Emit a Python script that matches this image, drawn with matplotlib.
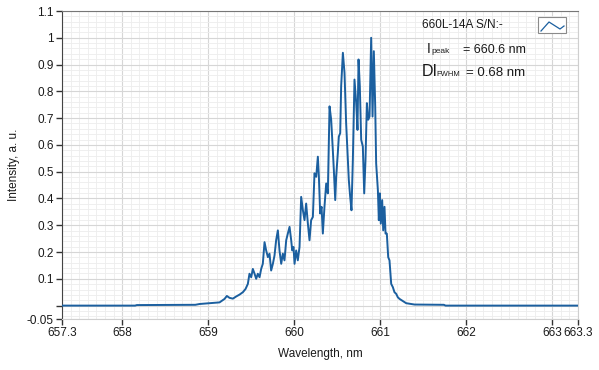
import matplotlib
matplotlib.use('Agg')
import matplotlib.pyplot as plt
from matplotlib.ticker import MultipleLocator
from matplotlib.lines import Line2D
from matplotlib.patches import Rectangle

# spectrum (nm, a.u.)
wavelength = [657.300, 658.150, 658.170, 658.850, 658.900, 659.015, 659.132, 659.190,
              659.217, 659.248, 659.287, 659.325, 659.364, 659.403, 659.434, 659.461,
              659.480, 659.500, 659.519, 659.539, 659.558, 659.577, 659.597, 659.616,
              659.635, 659.655, 659.674, 659.694, 659.713, 659.732, 659.752, 659.771,
              659.790, 659.810, 659.829, 659.849, 659.868, 659.887, 659.907, 659.926,
              659.946, 659.965, 659.977, 659.992, 660.004, 660.023, 660.042, 660.062,
              660.081, 660.101, 660.120, 660.139, 660.159, 660.178, 660.197, 660.217,
              660.236, 660.256, 660.275, 660.287, 660.302, 660.318, 660.333, 660.352,
              660.372, 660.391, 660.411, 660.430, 660.449, 660.461, 660.477, 660.488,
              660.507, 660.519, 660.535, 660.546, 660.566, 660.585, 660.604, 660.624,
              660.635, 660.651, 660.666, 660.682, 660.701, 660.721, 660.736, 660.748,
              660.763, 660.779, 660.798, 660.814, 660.829, 660.845, 660.860, 660.876,
              660.895, 660.911, 660.926, 660.942, 660.953, 660.973, 660.984, 660.996,
              661.007, 661.023, 661.035, 661.050, 661.062, 661.077, 661.093, 661.108,
              661.128, 661.147, 661.166, 661.186, 661.205, 661.225, 661.302, 661.399,
              661.740, 661.760, 663.300]
intensity = [0.000, 0.000, 0.002, 0.003, 0.006, 0.009, 0.012, 0.025,
             0.036, 0.029, 0.026, 0.034, 0.041, 0.050, 0.062, 0.081,
             0.119, 0.106, 0.137, 0.119, 0.100, 0.119, 0.106, 0.137,
             0.156, 0.237, 0.206, 0.181, 0.194, 0.131, 0.156, 0.187,
             0.244, 0.281, 0.206, 0.156, 0.194, 0.169, 0.244, 0.269,
             0.294, 0.244, 0.206, 0.219, 0.156, 0.206, 0.169, 0.219,
             0.406, 0.356, 0.319, 0.381, 0.306, 0.244, 0.319, 0.331,
             0.494, 0.481, 0.556, 0.481, 0.344, 0.369, 0.269, 0.369,
             0.456, 0.419, 0.744, 0.694, 0.581, 0.506, 0.394, 0.481,
             0.569, 0.631, 0.644, 0.819, 0.944, 0.869, 0.681, 0.544,
             0.469, 0.406, 0.356, 0.544, 0.844, 0.756, 0.656, 0.919,
             0.819, 0.619, 0.594, 0.419, 0.544, 0.756, 0.694, 0.706,
             1.000, 0.706, 0.950, 0.744, 0.531, 0.431, 0.319, 0.419,
             0.306, 0.394, 0.281, 0.369, 0.269, 0.269, 0.181, 0.169,
             0.081, 0.069, 0.050, 0.044, 0.031, 0.025, 0.009, 0.004,
             0.003, 0.000, 0.000]

x_ticks = [657.3, 658, 659, 660, 661, 662, 663, 663.3]
x_labels = ['657.3', '658', '659', '660', '661', '662', '663', '663.3']
y_ticks = [-0.05, 0, 0.1, 0.2, 0.3, 0.4, 0.5, 0.6, 0.7, 0.8, 0.9, 1.0, 1.1]
y_labels = ['-0.05', '', '0.1', '0.2', '0.3', '0.4', '0.5', '0.6', '0.7', '0.8', '0.9', '1', '1.1']

plt.rcParams['font.family'] = ['Liberation Sans', 'DejaVu Sans']

W, H = 599, 370
TXT = '#1a1a1a'


def fx(px):
    return px / W


def fy(py):
    return 1 - py / H


def main():
    fig = plt.figure(figsize=(W / 100, H / 100), dpi=100)
    ax = fig.add_axes([fx(62), fy(319), fx(578) - fx(62), fy(11) - fy(319)])

    ax.plot(wavelength, intensity, color='#1b5f9f', lw=1.4, zorder=3)

    ax.set_xlim(657.3, 663.3)
    ax.set_ylim(-0.05, 1.1)

    # grid, LabVIEW style
    ax.xaxis.set_minor_locator(MultipleLocator(0.1))
    ax.yaxis.set_minor_locator(MultipleLocator(0.02))
    ax.grid(which='major', color='#d6d6d6', lw=0.8)
    ax.grid(which='minor', color='#ededed', lw=0.6)
    ax.set_axisbelow(True)

    ax.set_xticks(x_ticks)
    ax.set_xticklabels(x_labels)
    ax.set_yticks(y_ticks)
    ax.set_yticklabels(y_labels)
    ax.tick_params(which='major', direction='out', length=4, width=1, color='#333333',
                   labelsize=8.5, labelcolor=TXT, pad=2)
    ax.tick_params(which='minor', length=0)

    ax.spines['left'].set_color('#444444')
    ax.spines['top'].set_color('#777777')
    ax.spines['right'].set_color('#cfcfcf')
    ax.spines['bottom'].set_color('#cfcfcf')

    ax.set_xlabel('Wavelength, nm', fontsize=8.5, color=TXT, labelpad=6)
    ax.set_ylabel('Intensity, a. u.', fontsize=8.5, color=TXT, labelpad=5)

    # legend / annotation block
    fig.text(fx(422), fy(25), '660L-14A S/N:-', fontsize=8.5, va='center', color=TXT)
    fig.patches.append(Rectangle((fx(538), fy(33)), fx(566) - fx(538), fy(17) - fy(33),
                                 transform=fig.transFigure, facecolor='white',
                                 edgecolor='#8a8a8a', lw=0.8))
    fig.lines.append(Line2D([fx(541), fx(549), fx(560), fx(564)],
                            [fy(31), fy(22), fy(29), fy(26)],
                            transform=fig.transFigure, color='#1b5f9f', lw=0.9))

    fig.text(fx(427), fy(53), 'I', fontsize=10, va='baseline', color=TXT)
    fig.text(fx(431), fy(53), 'peak', fontsize=6, va='baseline', color=TXT)
    fig.text(fx(463), fy(53), '= 660.6 nm', fontsize=9, va='baseline', color=TXT)
    fig.text(fx(422), fy(76), 'DI', fontsize=11.5, va='baseline', color=TXT)
    fig.text(fx(436), fy(76), 'FWHM', fontsize=5.5, va='baseline', color=TXT)
    fig.text(fx(466), fy(76), '= 0.68 nm', fontsize=9.5, va='baseline', color=TXT)

    fig.savefig('out.png', dpi=100)


main()
